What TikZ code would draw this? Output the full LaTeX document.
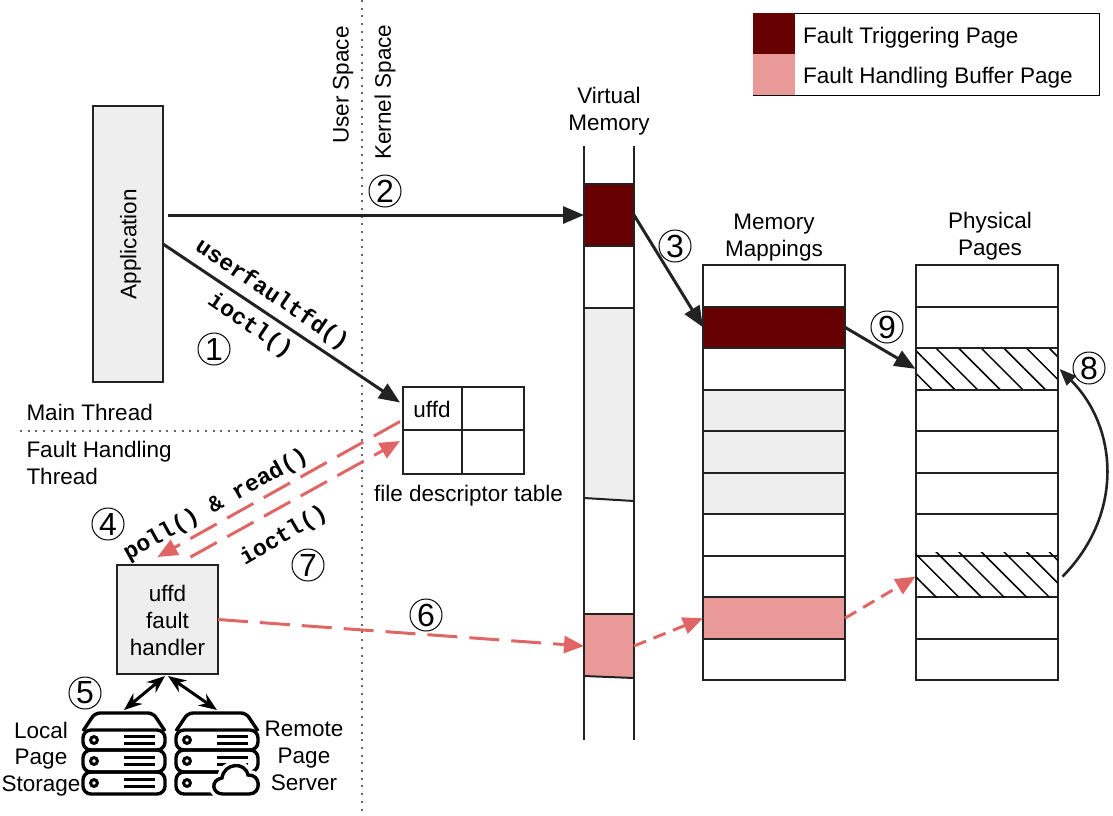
\documentclass[tikz,border=0pt]{standalone}
\usepackage{fontspec}
\setmainfont{Liberation Sans}
\newfontfamily\codefont{Liberation Mono}[BoldFont={Liberation Mono Bold}]
\usepackage{tikz}
\usetikzlibrary{arrows.meta,positioning,patterns.meta}

\definecolor{trig}{HTML}{660000}
\definecolor{buff}{HTML}{EA9999}
\definecolor{pale}{HTML}{EEEEEE}
\definecolor{redline}{HTML}{E06666}
\definecolor{ink}{HTML}{222222}

\tikzset{
  server/.pic = {
    \draw[line width=3.4pt, rounded corners=5pt] (1,19) -- (13,1) -- (71,1) -- (83,19);
    \foreach \ry/\rh in {18/20,38/22,60/22}{
      \draw[line width=3.4pt, rounded corners=8pt] (1,\ry) rectangle (83,\ry+\rh);
      \draw[line width=3pt] (12,\ry+\rh/2) circle (3.4);
      \draw[line width=3pt] (42,\ry+\rh/2-3.5) -- (73,\ry+\rh/2-3.5);
      \draw[line width=3pt] (42,\ry+\rh/2+3.5) -- (73,\ry+\rh/2+3.5);
    }
    \coordinate (-top) at (42,-2);
  },
  cloudy/.pic = {
    \path[fill=white, draw=white, line width=10pt] (48,82) .. controls (37,82) and (35,68) .. (47,66)
      .. controls (49,51) and (70,49) .. (73,63) .. controls (86,62) and (87,82) .. (74,82) -- cycle;
    \draw[fill=white, line width=3.4pt] (48,82) .. controls (37,82) and (35,68) .. (47,66)
      .. controls (49,51) and (70,49) .. (73,63) .. controls (86,62) and (87,82) .. (74,82) -- cycle;
  }
}

\begin{document}
\begin{tikzpicture}[
  x=1pt, y=-1pt,
  font=\fontsize{22.5}{26.7}\selectfont,
  line width=2pt,
  lbl/.style   = {align=center, inner sep=0pt},
  code/.style  = {inner sep=0pt, font=\fontsize{23}{26}\selectfont\codefont\bfseries},
  num/.style   = {draw, circle, line width=1pt, inner sep=0pt, minimum size=32pt,
                  font=\fontsize{32}{32}\selectfont},
  box/.style   = {draw=ink, fill=pale, align=center, inner sep=0pt, outer sep=0pt},
  cell/.style  = {draw=ink, inner sep=0pt, outer sep=0pt, minimum width=142pt, minimum height=41.55pt},
  tabc/.style  = {draw=ink, inner sep=0pt, outer sep=0pt, minimum height=43.5pt},
  key/.style   = {inner sep=0pt, outer sep=0pt, minimum width=42pt, minimum height=41pt},
  plain/.style = {},
  hatch/.style = {pattern={Lines[angle=-45,distance=16pt,line width=1.5pt]}},
  arr/.style   = {-{Triangle[length=21pt,width=17pt]}, line width=3pt, ink},
  dbl/.style   = {{Stealth[length=18pt,width=14pt]}-{Stealth[length=18pt,width=14pt]}, line width=3pt, black},
  das/.style   = {-{Triangle[length=20pt,width=17pt]}, line width=3pt, redline, dash pattern=on 30pt off 12pt},
  dsh/.style   = {-{Triangle[length=20pt,width=17pt]}, line width=3pt, redline, dash pattern=on 13pt off 8pt},
  dot/.style   = {line width=2pt, black!60, dash pattern=on 2pt off 5.7pt}
]
\useasboundingbox (0,0) rectangle (1113,815);
%% Legend
\draw[line width=1pt] (753,13) rectangle (1099,95);
\node[key,fill=trig] (keya) at (774,33.5) {};
\node[key,fill=buff,below=0pt of keya] (keyb) {};
\node[lbl,anchor=west] at (802,38) {Fault Triggering Page};
\node[lbl,anchor=west] at (802,78) {Fault Handling Buffer Page};
%% Space and thread dividers
\coordinate (ustop) at (362,0); \coordinate (usbot) at (362,815);
\coordinate (thl) at (20,431);  \coordinate (thr) at (362,431);
\draw[dot] (ustop)--(usbot);
\draw[dot] (thl)--(thr);
\node[lbl,rotate=90] at (343,85) {User Space};
\node[lbl,rotate=90] at (385,92) {Kernel Space};
\node[lbl,anchor=west] at (25.5,412) {Main Thread};
\node[lbl,anchor=west,align=left] at (25.5,463) {Fault Handling\\Thread};
%% Application and handler
\node[box,minimum width=70pt,minimum height=276pt] (app) at (128,244) {};
\node[lbl,rotate=90] at (130.5,244) {Application};
\node[box,minimum width=101pt,minimum height=109pt] (hdl) at (167.5,619.5) {};
\node[lbl] at (167.5,620.5) {uffd\\fault\\handler};
%% File descriptor table
\node[tabc,minimum width=59pt] (uffd) at (432.5,408.5) {};
\node[tabc,minimum width=62pt,right=0pt of uffd] (fdb) {};
\node[tabc,minimum width=59pt,below=0pt of uffd] (fdc) {};
\node[tabc,minimum width=62pt,right=0pt of fdc]  (fdd) {};
\node[lbl] at (432,409) {uffd};
\node[lbl] at (468.5,496) {file descriptor table};
%% Virtual memory
\node[inner sep=0pt,outer sep=0pt,minimum width=50pt,minimum height=594pt] (vmem) at (609,443) {};
\fill[pale] (584,308) -- (634,308) -- (634,501) -- (584,498) -- cycle;
\draw[ink] (584,246) -- (634,246);
\draw[ink] (584,308) -- (634,308);
\draw[ink] (584,498) -- (634,501);
\node[box,fill=trig,minimum width=50pt,minimum height=62pt] (vmtrig) at (609,215) {};
\fill[buff] (584,614) -- (634,614) -- (634,678) -- (584,676) -- cycle;
\draw[ink] (584,614) -- (634,614);
\draw[ink] (584,676) -- (634,678);
\node[inner sep=0pt,outer sep=0pt,minimum width=50pt,minimum height=62pt] (vmbuf) at (609,646) {};
\draw[ink] (vmem.north west)--(vmem.south west);
\draw[ink] (vmem.north east)--(vmem.south east);
\node[lbl,above=10pt of vmem.north] {Virtual\\Memory};
%% Memory mappings
\node[cell] (map0) at (774,285.75) {};
\foreach \p/\i/\c in {0/1/trig,1/2/white,2/3/pale,3/4/pale,4/5/pale,5/6/white,6/7/white,7/8/buff,8/9/white}{
  \node[cell,fill=\c,below=0pt of map\p] (map\i) {};}
\node[lbl] at (774,237.5) {Memory\\Mappings};
%% Physical pages
\node[cell] (phys0) at (986.5,285.75) {};
\foreach \p/\i/\st in {0/1/plain,1/2/hatch,2/3/plain,3/4/plain,4/5/plain,5/6/plain,6/7/plain,7/8/plain,8/9/plain}{
  \node[cell,\st,below=0pt of phys\p] (phys\i) {};}
\fill[hatch] ([yshift=3pt]phys7.north west) rectangle (phys7.south east);
\node[lbl] at (990,236) {Physical\\Pages};
%% Page stores
\pic (lsrv) at (82,712) {server};
\pic (rsrv) at (175,712) {server};
\pic at (175,712) {cloudy};
\node[lbl] at (41,759) {Local\\Page\\Storage};
\node[lbl] at (304,756) {Remote\\Page\\Server};
%% Fault path
\draw[arr] (app.east)--([shift={(-3,-6)}]uffd.west);
\draw[arr] ([shift={(5,-29)}]app.east)--(vmtrig.west);
\draw[arr] (vmtrig.east)--(map1.west);
\draw[arr] (map1.east)--(phys2.west);
\draw[arr,line width=2.6pt,-{Triangle[length=17pt,width=13pt]}] ([xshift=5pt]phys7.east)
  .. controls +(62,-63) and +(58,58) .. ([xshift=2pt]phys2.east);
\draw[dbl] ([shift={(-2.5,2)}]hdl.south)--(lsrv-top);
\draw[dbl] ([shift={(0.5,2)}]hdl.south)--(rsrv-top);
%% Handling path
\draw[das] ([shift={(-3,13)}]uffd.west)--([shift={(-10,-8)}]hdl.north);
\draw[das] ([shift={(23,-8)}]hdl.north)--([shift={(-3,-11)}]fdc.west);
\draw[das] (hdl.east)--(vmbuf.west);
\draw[dsh] (vmbuf.east)--(map8.west);
\draw[dsh] (map8.east)--(phys7.west);
%% Call labels
\node[code,rotate=-34] at (272,295) {userfaultfd()};
\node[code,rotate=-34] at (250,326) {ioctl()};
\node[code,rotate=29] at (216,505) {poll() \& read()};
\node[code,rotate=30] at (284,536) {ioctl()};
%% Step numbers
\foreach \nm/\nx/\ny in {1/214/349,2/385/191,3/675/246,4/108/524,5/85/693,6/426/615,7/308/565,8/1089/368,9/887/327}{
  \node[num] (st\nm) at (\nx,\ny) {\nm};}
\end{tikzpicture}
\end{document}
